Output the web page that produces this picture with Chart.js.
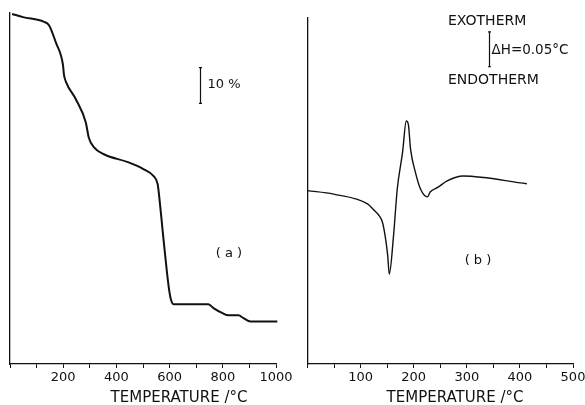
<!DOCTYPE html>
<html>
<head>
<meta charset="utf-8">
<script src="https://cdn.jsdelivr.net/npm/chart.js@4/dist/chart.umd.min.js"></script>
<style>
  html, body { margin: 0; padding: 0; background: #fff; }
  #wrap { position: relative; width: 585px; height: 405px; overflow: hidden; }
  #tgaChart { position: absolute; left: 0; top: 0; }
  #dtaChart { position: absolute; left: 285px; top: 0; }
</style>
</head>
<body>
<div id="wrap">
  <canvas id="tgaChart" width="300" height="405"></canvas>
  <canvas id="dtaChart" width="320" height="405"></canvas>
</div>
<script>
// (a) thermogravimetric curve: temperature (°C) vs mass (%)
const tgaTemp = [8, 49, 128, 146, 173, 199, 203, 210, 248, 285, 296, 315, 353, 443, 503, 540, 555, 559, 578, 596, 604, 615, 746, 765, 799, 821, 859, 878, 904, 1005];
const tgaMass = [97.8, 96.9, 95.6, 94.7, 89.7, 83.6, 80.8, 78.9, 73.9, 67.5, 63.3, 60.6, 58.6, 56.4, 54.4, 52.5, 50.3, 48.1, 34.2, 21.9, 18.3, 16.7, 16.7, 15.6, 14.2, 13.6, 13.6, 12.8, 11.9, 11.9];
const tgaTickLabels = [200, 400, 600, 800, 1000];

// (b) differential thermal curve: temperature (°C) vs ΔT (°C)
const dtaTemp = [0, 49, 113, 124, 134, 141, 146, 151, 154, 162, 169, 179, 186, 190, 194, 203, 213, 226, 231, 246, 263, 293, 413];
const dtaSignal = [0.249, 0.244, 0.230, 0.222, 0.214, 0.204, 0.185, 0.156, 0.129, 0.184, 0.251, 0.304, 0.349, 0.344, 0.309, 0.276, 0.251, 0.240, 0.247, 0.254, 0.263, 0.270, 0.259];
const dtaTickLabels = [100, 200, 300, 400, 500];

const FONT = "'DejaVu Sans', sans-serif";
const INK = '#111';

function toPoints(xs, ys) {
    return xs.map((x, i) => ({ x: x, y: ys[i] }));
}

function xAxis(max, step, labels) {
    return {
        type: 'linear',
        min: 0,
        max: max,
        grid: { display: true, drawOnChartArea: false, drawTicks: true, tickLength: 4, color: INK, lineWidth: 1 },
        border: { display: true, color: INK, width: 1.3 },
        ticks: {
            stepSize: step,
            autoSkip: false,
            maxRotation: 0,
            padding: 2,
            color: INK,
            font: { family: FONT, size: 13 },
            callback: v => labels.includes(v) ? String(v) : ''
        }
    };
}

function yAxis(max) {
    return {
        type: 'linear',
        min: 0,
        max: max,
        grid: { display: false },
        border: { display: true, color: INK, width: 1.3 },
        ticks: { display: false }
    };
}

// draws text labels and scale bars on top of a chart
function notesPlugin(draw) {
    return {
        id: 'notes',
        afterDraw(chart) {
            const ctx = chart.ctx;
            ctx.save();
            ctx.fillStyle = INK;
            ctx.strokeStyle = INK;
            ctx.textBaseline = 'middle';
            draw(ctx, chart);
            ctx.restore();
        }
    };
}

function scaleBar(ctx, x, y1, y2) {
    ctx.lineWidth = 1.2;
    ctx.beginPath();
    ctx.moveTo(x, y1); ctx.lineTo(x, y2);
    ctx.moveTo(x - 1.5, y1); ctx.lineTo(x + 1.5, y1);
    ctx.moveTo(x - 1.5, y2); ctx.lineTo(x + 1.5, y2);
    ctx.stroke();
}

function text(ctx, str, x, y, size, align) {
    ctx.font = size + 'px ' + FONT;
    ctx.textAlign = align || 'left';
    ctx.fillText(str, x, y);
}

new Chart(document.getElementById('tgaChart'), {
    type: 'line',
    data: {
        datasets: [{
            data: toPoints(tgaTemp, tgaMass),
            borderColor: INK,
            borderWidth: 2,
            pointRadius: 0,
            cubicInterpolationMode: 'monotone',
            clip: false
        }]
    },
    options: {
        responsive: false,
        animation: false,
        layout: { padding: { left: 2, right: 24, top: 13, bottom: 17.4 } },
        plugins: { legend: { display: false }, tooltip: { enabled: false } },
        scales: { x: xAxis(1000, 100, tgaTickLabels), y: yAxis(98.06) }
    },
    plugins: [notesPlugin((ctx, chart) => {
        const xs = chart.scales.x, ys = chart.scales.y;
        const bx = Math.round(xs.getPixelForValue(716)) + 0.5;
        scaleBar(ctx, bx, ys.getPixelForValue(82.8), ys.getPixelForValue(72.8));
        text(ctx, '10 %', bx + 7, 85, 13);
        text(ctx, '( a )', 229, 254, 13, 'center');
        text(ctx, 'TEMPERATURE /°C', 179, 398, 15, 'center');
    })]
});

// canvas (b) sits 285px from the left of the page
const OX = 285;
new Chart(document.getElementById('dtaChart'), {
    type: 'line',
    data: {
        datasets: [{
            data: toPoints(dtaTemp, dtaSignal),
            borderColor: INK,
            borderWidth: 1.4,
            pointRadius: 0,
            cubicInterpolationMode: 'monotone'
        }]
    },
    options: {
        responsive: false,
        animation: false,
        layout: { padding: { left: 14.5, right: 32, top: 18, bottom: 17.4 } },
        plugins: { legend: { display: false }, tooltip: { enabled: false } },
        scales: { x: xAxis(500, 50, dtaTickLabels), y: yAxis(0.497) }
    },
    plugins: [notesPlugin((ctx, chart) => {
        const xs = chart.scales.x, ys = chart.scales.y;
        const bx = Math.round(xs.getPixelForValue(342)) + 0.5;
        scaleBar(ctx, bx, ys.getPixelForValue(0.477), ys.getPixelForValue(0.427));
        text(ctx, 'EXOTHERM', 448 - OX, 21, 14);
        text(ctx, 'ΔH=0.05°C', bx + 2, 50, 13.5);
        text(ctx, 'ENDOTHERM', 448 - OX, 80, 14);
        text(ctx, '( b )', 478 - OX, 261, 13, 'center');
        text(ctx, 'TEMPERATURE /°C', 455 - OX, 398, 15, 'center');
    })]
});
</script>
</body>
</html>
